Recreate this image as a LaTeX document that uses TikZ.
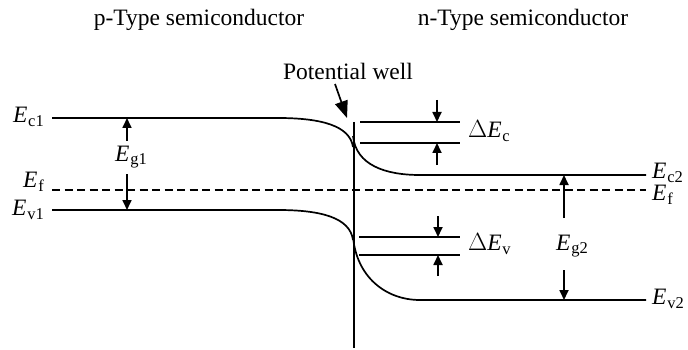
\documentclass[tikz,border=0pt]{standalone}
\usepackage{fontspec}
\setmainfont{Liberation Serif}
\usetikzlibrary{arrows.meta}
\newcommand\Elab[1]{\textit{E}\kern0.03em\raisebox{-0.35ex}{\fontsize{16.5}{17}\selectfont #1}}
\tikzset{
  lbl/.style={inner sep=0pt, font=\fontsize{23.5}{26}\selectfont},
  band/.style={line width=1.7pt},
  fermi/.style={line width=1.7pt, dash pattern=on 8pt off 4.5pt},
  garrow/.style={line width=1.7pt, -{Triangle[length=10pt,width=9pt]}},
  warrow/.style={line width=1.7pt, -{Triangle[length=17pt,width=13pt]}}
}
\begin{document}
\begin{tikzpicture}[x=1pt,y=-1pt]
\useasboundingbox (0,0) rectangle (688,350);
% titles
\node[lbl] (ptitle) at (199,20) {p-Type semiconductor};
\node[lbl] (ntitle) at (523,20) {n-Type semiconductor};
\node[lbl] (well) at (348,71) {Potential well};
% interface
\coordinate (itop) at (354,122);
\coordinate (ibot) at (354,348);
\draw[band] (itop) -- (ibot);
% conduction band
\draw[band] (52,118) -- (278,118) .. controls (322,118) and (350,126) .. (353,147);
\draw[band] (353,136) .. controls (356,165) and (385,175) .. (420,175) -- (646,175);
% valence band
\draw[band] (52,210) -- (278,210) .. controls (322,210) and (350,218) .. (353,240);
\draw[band] (353,236) .. controls (356,276) and (385,300) .. (420,300) -- (646,300);
% fermi level
\draw[fermi] (52,190) -- (646,190);
% offset lines
\draw[band] (360,122) -- (460,122);
\draw[band] (360,143) -- (460,143);
\draw[band] (359,237) -- (460,237);
\draw[band] (359,255) -- (460,255);
% labels
\node[lbl, anchor=east] (ec1) at (44,117) {\Elab{c1}};
\node[lbl, anchor=east] (ef1) at (44,182) {\Elab{f}};
\node[lbl, anchor=east] (ev1) at (44,210) {\Elab{v1}};
\node[lbl, anchor=west] (ec2) at (652,173) {\Elab{c2}};
\node[lbl, anchor=west] (ef2) at (652,195) {\Elab{f}};
\node[lbl, anchor=west] (ev2) at (652,299) {\Elab{v2}};
\node[lbl] (eg1) at (131,157) {\Elab{g1}};
\node[lbl] (eg2) at (572,246) {\Elab{g2}};
\node[lbl, anchor=west] (dec) at (468,131) {$\Delta$\Elab{c}};
\node[lbl, anchor=west] (dev) at (468,244) {$\Delta$\Elab{v}};
% gap arrows
\coordinate (a1s) at (127,141); \coordinate (a1e) at (127,118);
\coordinate (a2s) at (127,174); \coordinate (a2e) at (127,210);
\draw[garrow] (a1s) -- (a1e);
\draw[garrow] (a2s) -- (a2e);
\coordinate (b1s) at (564,218); \coordinate (b1e) at (564,175);
\coordinate (b2s) at (564,270); \coordinate (b2e) at (564,300);
\draw[garrow] (b1s) -- (b1e);
\draw[garrow] (b2s) -- (b2e);
% offset arrows
\coordinate (c1s) at (437,100); \coordinate (c1e) at (437,122);
\coordinate (c2s) at (437,165); \coordinate (c2e) at (437,143);
\draw[garrow] (c1s) -- (c1e);
\draw[garrow] (c2s) -- (c2e);
\coordinate (d1s) at (438,216); \coordinate (d1e) at (438,237);
\coordinate (d2s) at (438,276); \coordinate (d2e) at (438,255);
\draw[garrow] (d1s) -- (d1e);
\draw[garrow] (d2s) -- (d2e);
% potential well arrow
\coordinate (wtip) at (347,118);
\draw[warrow] (335,84) -- (wtip);
\end{tikzpicture}
\end{document}
